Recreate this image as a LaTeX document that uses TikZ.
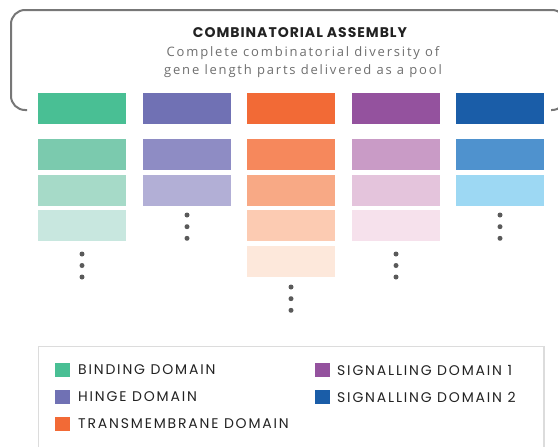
\documentclass[tikz,border=0pt]{standalone}
\usepackage{fontspec}
\setmainfont{Poppins}
\newfontfamily\legfont{Poppins}[LetterSpace=13]
\newfontfamily\titfont{Poppins}[LetterSpace=7]
\newfontfamily\subfont{Open Sans}[LetterSpace=14]
\definecolor{brk}{HTML}{777777}
\definecolor{dotc}{HTML}{5A5A5A}
\definecolor{legbd}{HTML}{DCDCDC}
\definecolor{txt}{HTML}{222222}
\definecolor{subc}{HTML}{6E6E6E}
\definecolor{ga}{HTML}{49BF94}\definecolor{gb}{HTML}{7BCAAE}\definecolor{gc}{HTML}{A6DAC8}\definecolor{gd}{HTML}{C8E7DF}
\definecolor{pa}{HTML}{7071B4}\definecolor{pb}{HTML}{8E8CC4}\definecolor{pc}{HTML}{B2AFD6}
\definecolor{oa}{HTML}{F26A36}\definecolor{ob}{HTML}{F6885C}\definecolor{oc}{HTML}{F8A985}\definecolor{od}{HTML}{FCCBB2}\definecolor{oe}{HTML}{FDE8DB}
\definecolor{ma}{HTML}{94529E}\definecolor{mb}{HTML}{C99BC6}\definecolor{mc}{HTML}{E4C4DC}\definecolor{md}{HTML}{F6E1EC}
\definecolor{ba}{HTML}{1A5DA8}\definecolor{bb}{HTML}{4F92CE}\definecolor{bc}{HTML}{9DD8F3}
\tikzset{
  part/.style={rectangle, inner sep=0pt, minimum width=88pt, minimum height=31pt, fill=#1},
  dotmark/.style={circle, inner sep=0pt, minimum size=5pt, fill=dotc},
  legsq/.style={rectangle, inner sep=0pt, minimum size=14.5pt, fill=#1},
  legtxt/.style={anchor=west, inner sep=0pt, text=txt, font=\legfont\fontsize{14}{16}\selectfont},
  subtxt/.style={text=subc, inner sep=0pt, font=\subfont\fontsize{13}{16}\selectfont},
}
\begin{document}
\begin{tikzpicture}[x=1pt,y=-1pt]
\useasboundingbox (0,0) rectangle (558,447);
\clip (0,0) rectangle (558,447);
% bracket
\coordinate (bl) at (27,110);
\coordinate (br) at (551,110);
\draw[brk, line width=2pt, rounded corners=14pt] (bl) -| (11,10) -| (566,110) -- (br);
% title
\node[text=txt, inner sep=0pt, font=\titfont\bfseries\fontsize{14}{16}\selectfont] (title) at (300,33) {COMBINATORIAL ASSEMBLY};
\node[subtxt] (sub1) at (303,53) {Complete combinatorial diversity of};
\node[subtxt] (sub2) at (303,71.5) {gene length parts delivered as a pool};
% columns
\node[part=ga] (g1) at (82,108.5) {};
\node[part=gb] (g2) at (82,154.5) {};
\node[part=gc] (g3) at (82,190.5) {};
\node[part=gd] (g4) at (82,225.5) {};
\node[part=pa] (p1) at (187,108.5) {};
\node[part=pb] (p2) at (187,154.5) {};
\node[part=pc] (p3) at (187,190.5) {};
\node[part=oa] (o1) at (291,108.5) {};
\node[part=ob] (o2) at (291,154.5) {};
\node[part=oc] (o3) at (291,190.5) {};
\node[part=od] (o4) at (291,225.5) {};
\node[part=oe] (o5) at (291,261.5) {};
\node[part=ma] (m1) at (396,108.5) {};
\node[part=mb] (m2) at (396,154.5) {};
\node[part=mc] (m3) at (396,190.5) {};
\node[part=md] (m4) at (396,225.5) {};
\node[part=ba] (b1) at (500,108.5) {};
\node[part=bb] (b2) at (500,154.5) {};
\node[part=bc] (b3) at (500,190.5) {};
% dots
\foreach \y [count=\i] in {254,265.5,277}{
  \node[dotmark] (gdot\i) at (82,\y) {};
  \node[dotmark] (mdot\i) at (396,\y) {};
}
\foreach \y [count=\i] in {215,226.7,238.3}{
  \node[dotmark] (pdot\i) at (187,\y) {};
  \node[dotmark] (bdot\i) at (500,\y) {};
}
\foreach \y [count=\i] in {287,298.7,310.3}{
  \node[dotmark] (odot\i) at (291,\y) {};
}
% legend
\draw[legbd, line width=1.5pt] (38.5,346.5) rectangle (544,470);
\node[legsq=ga] (lsq1) at (62.5,370) {};
\node[legsq=pa] (lsq2) at (62.5,397) {};
\node[legsq=oa] (lsq3) at (62.5,424) {};
\node[legsq=ma] (lsq4) at (322.5,370) {};
\node[legsq=ba] (lsq5) at (322.5,397) {};
\node[legtxt] (lt1) at (78,370) {BINDING DOMAIN};
\node[legtxt] (lt2) at (78,397) {HINGE DOMAIN};
\node[legtxt] (lt3) at (78,424) {TRANSMEMBRANE DOMAIN};
\node[legtxt] (lt4) at (337,370) {SIGNALLING DOMAIN 1};
\node[legtxt] (lt5) at (337,397) {SIGNALLING DOMAIN 2};
\end{tikzpicture}
\end{document}
